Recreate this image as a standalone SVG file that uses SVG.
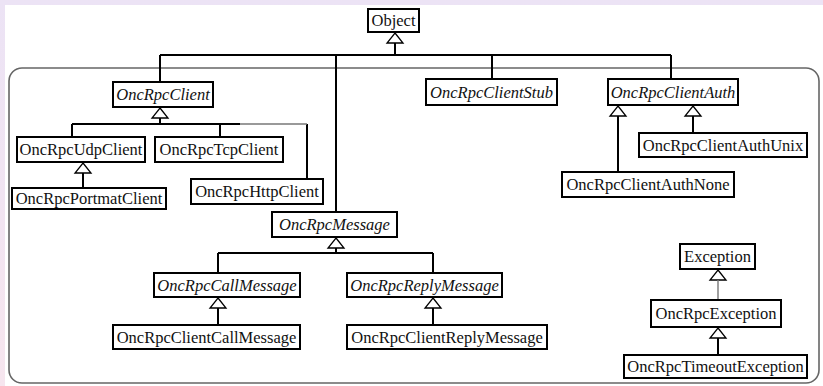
<svg xmlns="http://www.w3.org/2000/svg" width="823" height="386" viewBox="0 0 823 386">
  <defs>
    <linearGradient id="pageBg" x1="0" y1="0" x2="0" y2="1">
      <stop offset="0" stop-color="#ece3f5"/>
      <stop offset="1" stop-color="#f6e5ee"/>
    </linearGradient>
    <!-- hollow generalization triangle, apex at origin -->
    <path id="tri" d="M0,0 L8,10 L-8,10 Z"/>
  </defs>
  <style>
    .box { fill: #ffffff; stroke: #000000; stroke-width: 2; }
    .lbl { font-family: "Liberation Serif", "Times New Roman", serif; font-size: 16.5px; fill: #111111; text-anchor: middle; }
    .abs { font-style: italic; }
    .edge { fill: none; stroke: #000000; stroke-width: 2; }
    .thin { fill: none; stroke: #777777; stroke-width: 1.4; }
    .head { fill: #ffffff; stroke: #000000; stroke-width: 1.3; }
    .frame { fill: none; stroke: #666666; stroke-width: 1.6; }
  </style>

  <!-- page background -->
  <rect x="0" y="0" width="823" height="386" fill="url(#pageBg)"/>
  <rect x="5" y="5" width="818" height="381" fill="#ffffff"/>

  <!-- package frame -->
  <rect class="frame" x="9" y="68" width="810" height="315" rx="13" ry="13"/>

  <g id="connectors">
    <!-- Object and its direct subclasses -->
    <use href="#tri" class="head" x="395" y="33"/>
    <path class="edge" d="M395,43 V55 M160,55 H671 M160,55 V82 M336,55 V212 M492,55 V79 M671,55 V79"/>
    <!-- OncRpcClient subclasses -->
    <use href="#tri" class="head" x="160" y="108"/>
    <path class="edge" d="M160,118 V124 M72,124 H240 M72,124 V137 M220,124 V137 M307,124 V179"/>
    <path class="thin" d="M240,124 H307"/>
    <use href="#tri" class="head" x="83" y="163"/>
    <path class="edge" d="M83,173 V188"/>
    <!-- OncRpcClientAuth subclasses -->
    <use href="#tri" class="head" x="618" y="106"/>
    <path class="edge" d="M618,116 V172"/>
    <use href="#tri" class="head" x="693" y="106"/>
    <path class="edge" d="M693,116 V133"/>
    <!-- OncRpcMessage subclasses -->
    <use href="#tri" class="head" x="336" y="238"/>
    <path class="edge" d="M336,248 V253 M218,253 H433 M218,253 V273 M433,253 V273"/>
    <use href="#tri" class="head" x="218" y="298"/>
    <path class="edge" d="M218,308 V325"/>
    <use href="#tri" class="head" x="433" y="298"/>
    <path class="edge" d="M433,308 V325"/>
    <!-- exceptions -->
    <use href="#tri" class="head" x="718" y="270"/>
    <path class="thin" d="M718,280 V300"/>
    <use href="#tri" class="head" x="718" y="328"/>
    <path class="edge" d="M718,338 V355"/>
  </g>

  <g id="Object"><rect class="box" x="368" y="9" width="51" height="23"/><text class="lbl" x="393.5" y="26">Object</text></g>
  <g id="OncRpcClient"><rect class="box" x="113" y="82" width="100" height="25"/><text class="lbl abs" x="163" y="100">OncRpcClient</text></g>
  <g id="OncRpcClientStub"><rect class="box" x="426" y="79" width="131" height="26"/><text class="lbl abs" x="491.5" y="97.5">OncRpcClientStub</text></g>
  <g id="OncRpcClientAuth"><rect class="box" x="608" y="79" width="130" height="26"/><text class="lbl abs" x="673" y="97.5">OncRpcClientAuth</text></g>
  <g id="OncRpcUdpClient"><rect class="box" x="17" y="137" width="128" height="25"/><text class="lbl" x="81" y="155">OncRpcUdpClient</text></g>
  <g id="OncRpcTcpClient"><rect class="box" x="155" y="137" width="128" height="25"/><text class="lbl" x="219" y="155">OncRpcTcpClient</text></g>
  <g id="OncRpcPortmatClient"><rect class="box" x="12" y="188" width="154" height="21"/><text class="lbl" x="89" y="204">OncRpcPortmatClient</text></g>
  <g id="OncRpcHttpClient"><rect class="box" x="191" y="179" width="132" height="25"/><text class="lbl" x="257" y="197">OncRpcHttpClient</text></g>
  <g id="OncRpcClientAuthUnix"><rect class="box" x="639" y="133" width="168" height="24"/><text class="lbl" x="723" y="151">OncRpcClientAuthUnix</text></g>
  <g id="OncRpcClientAuthNone"><rect class="box" x="562" y="172" width="172" height="25"/><text class="lbl" x="648" y="190">OncRpcClientAuthNone</text></g>
  <g id="OncRpcMessage"><rect class="box" x="272" y="212" width="125" height="25"/><text class="lbl abs" x="334.5" y="230">OncRpcMessage</text></g>
  <g id="OncRpcCallMessage"><rect class="box" x="154" y="273" width="146" height="24"/><text class="lbl abs" x="227" y="291">OncRpcCallMessage</text></g>
  <g id="OncRpcReplyMessage"><rect class="box" x="347" y="273" width="155" height="24"/><text class="lbl abs" x="424.5" y="291">OncRpcReplyMessage</text></g>
  <g id="OncRpcClientCallMessage"><rect class="box" x="113" y="325" width="187" height="24"/><text class="lbl" x="206.5" y="343">OncRpcClientCallMessage</text></g>
  <g id="OncRpcClientReplyMessage"><rect class="box" x="347" y="325" width="200" height="24"/><text class="lbl" x="447" y="343">OncRpcClientReplyMessage</text></g>
  <g id="Exception"><rect class="box" x="680" y="244" width="75" height="25"/><text class="lbl" x="717.5" y="262">Exception</text></g>
  <g id="OncRpcException"><rect class="box" x="651" y="300" width="130" height="27"/><text class="lbl" x="716" y="319">OncRpcException</text></g>
  <g id="OncRpcTimeoutException"><rect class="box" x="624" y="355" width="183" height="23"/><text class="lbl" x="715.5" y="372">OncRpcTimeoutException</text></g>
</svg>
